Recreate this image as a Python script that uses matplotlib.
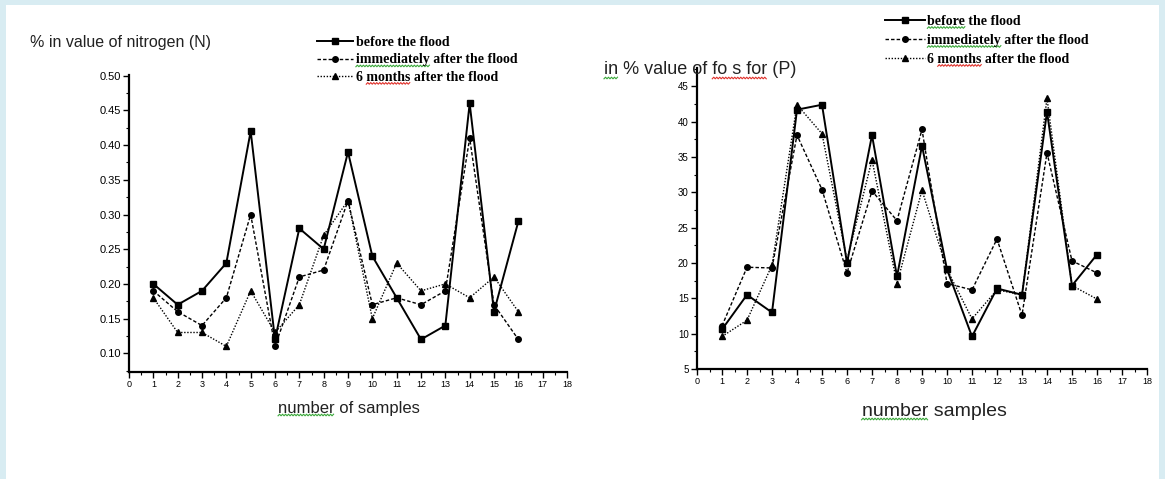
import numpy as np
import matplotlib.pyplot as plt
from matplotlib.lines import Line2D
from matplotlib.patches import Rectangle
from matplotlib.ticker import MultipleLocator

# Data
samples = np.arange(1, 17)

n_before = [0.20, 0.17, 0.19, 0.23, 0.42, 0.12, 0.28, 0.25, 0.39, 0.24, 0.18, 0.12, 0.14, 0.46, 0.16, 0.29]
n_immediately = [0.19, 0.16, 0.14, 0.18, 0.30, 0.11, 0.21, 0.22, 0.32, 0.17, 0.18, 0.17, 0.19, 0.41, 0.17, 0.12]
n_6months = [0.18, 0.13, 0.13, 0.11, 0.19, 0.13, 0.17, 0.27, 0.32, 0.15, 0.23, 0.19, 0.20, 0.18, 0.21, 0.16]

p_before = [10.6, 15.5, 13.0, 41.7, 42.4, 20.0, 38.1, 18.1, 36.6, 19.1, 9.6, 16.4, 15.5, 41.4, 16.8, 21.2]
p_immediately = [11.1, 19.4, 19.3, 38.1, 30.4, 18.6, 30.2, 26.0, 38.9, 17.1, 16.2, 23.4, 12.6, 35.6, 20.3, 18.6]
p_6months = [9.6, 11.9, 19.7, 42.4, 38.3, 20.4, 34.6, 17.1, 30.3, 19.1, 12.1, 16.2, 15.5, 43.3, 16.8, 14.9]

labels_left = ["before the flood", "immediately after the flood", "6 months after the flood"]
labels_right = ["before the flood", "immediately after the flood", "6 months after the flood"]

plt.rcParams["font.family"] = ["Liberation Sans", "DejaVu Sans"]

W, H = 1165, 479
GREEN, RED = "#3aa83a", "#e0302a"
fig = plt.figure(figsize=(W / 100, H / 100), dpi=100)
fig.patch.set_facecolor("#d8ecf2")
fig.patches.append(Rectangle((6 / W, 0), (W - 12) / W, (H - 5) / H,
                             transform=fig.transFigure, facecolor="white",
                             edgecolor="none", zorder=-5))

styles = [
    dict(linestyle="-", marker="s", linewidth=1.4, markersize=4.5),
    dict(linestyle=(0, (2.5, 1.5)), marker="o", linewidth=1.0, markersize=4),
    dict(linestyle=(0, (1, 1.2)), marker="^", linewidth=1.0, markersize=4.5),
]


def style_axes(ax, ysize):
    for side in ["top", "right"]:
        ax.spines[side].set_visible(False)
    for side in ["left", "bottom"]:
        ax.spines[side].set_linewidth(1.6)
    ax.tick_params(which="major", direction="out", length=4, width=1.0, pad=2)
    ax.tick_params(which="minor", direction="out", length=2.5, width=0.8)
    ax.tick_params(axis="x", labelsize=6.5)
    ax.tick_params(axis="y", labelsize=ysize)
    ax.xaxis.set_major_locator(MultipleLocator(1))
    ax.xaxis.set_minor_locator(MultipleLocator(0.5))
    ax.set_xlim(0, 18)
    ax.set_facecolor("none")


# left panel: nitrogen
ax1 = fig.add_axes([129 / W, 1 - 371.7 / H, (567 - 129) / W, (371.7 - 75) / H])
lines_left = []
for vals, st in zip([n_before, n_immediately, n_6months], styles):
    ln, = ax1.plot(samples, vals, color="black", **st)
    lines_left.append(ln)
style_axes(ax1, 8)
ax1.set_ylim(0.0735, 0.501)
ax1.yaxis.set_minor_locator(MultipleLocator(0.025))
yt = np.arange(0.10, 0.501, 0.05)
ax1.set_yticks(yt)
ax1.set_yticklabels([f"{v:.2f}" for v in yt])

# right panel: phosphorus
ax2 = fig.add_axes([697 / W, 1 - 369 / H, (1147 - 697) / W, (369 - 68) / H])
lines_right = []
for vals, st in zip([p_before, p_immediately, p_6months], styles):
    ln, = ax2.plot(samples, vals, color="black", **st)
    lines_right.append(ln)
style_axes(ax2, 7)
ax2.set_ylim(5, 47.6)
ax2.yaxis.set_major_locator(MultipleLocator(5))
ax2.yaxis.set_minor_locator(MultipleLocator(2.5))

# titles and axis labels
t_left = fig.text(30 / W, 1 - 43 / H, "% in value of nitrogen (N)", fontsize=11.5, va="center", color="#222222")
t_right = fig.text(604 / W, 1 - 70 / H, "in % value of fo s for (P)", fontsize=13, va="center", color="#222222")
xl_left = fig.text(349 / W, 1 - 408 / H, "number of samples", fontsize=12, ha="center", va="center", color="#222222")
xl_right = fig.text(934 / W, 1 - 411 / H, "number samples", fontsize=14, ha="center", va="center", color="#222222")

leg_font = dict(family=["Liberation Serif", "DejaVu Serif"], size=10, weight="bold")
leg_l = fig.legend(lines_left, labels_left, loc="upper left",
                   bbox_to_anchor=(317 / W, 1 - 36 / H), frameon=False, prop=leg_font,
                   handlelength=2.6, handletextpad=0.2, labelspacing=0.32,
                   borderpad=0, borderaxespad=0)
leg_r = fig.legend(lines_right, labels_right, loc="upper left",
                   bbox_to_anchor=(885 / W, 1 - 15 / H), frameon=False, prop=leg_font,
                   handlelength=2.9, handletextpad=0.15, labelspacing=0.43,
                   borderpad=0, borderaxespad=0)

# spell-check style wavy underlines seen in the source image
fig.canvas.draw()
renderer = fig.canvas.get_renderer()


def text_width(s, props):
    if not s:
        return 0
    tmp = fig.text(0, 0, s, fontproperties=props)
    w = tmp.get_window_extent(renderer).width
    tmp.remove()
    return w


def squiggle(t, start, end, color):
    s = t.get_text()
    bb = t.get_window_extent(renderer)
    props = t.get_fontproperties()
    x0 = bb.x0 + text_width(s[:start], props)
    x1 = bb.x0 + text_width(s[:end], props)
    xs = np.arange(x0, x1 + 0.1, 1.5)
    ys = bb.y0 + 0.5 + np.where(np.arange(len(xs)) % 2 == 0, -0.8, 0.8)
    fig.add_artist(Line2D(xs / W, ys / H, transform=fig.transFigure,
                          color=color, linewidth=0.8))


squiggle(xl_left, 0, 6, GREEN)
squiggle(xl_right, 0, 6, GREEN)
squiggle(t_right, 0, 2, GREEN)
squiggle(t_right, 14, 22, RED)
tl = leg_l.get_texts()
tr = leg_r.get_texts()
squiggle(tl[1], 0, 11, GREEN)
squiggle(tl[2], 2, 8, RED)
squiggle(tr[0], 0, 6, GREEN)
squiggle(tr[1], 0, 11, GREEN)
squiggle(tr[2], 2, 8, RED)

fig.savefig("out.png", dpi=100)
